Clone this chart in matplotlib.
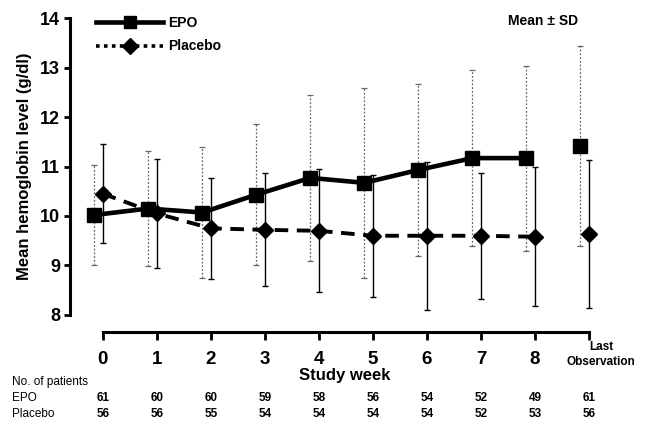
import matplotlib
matplotlib.use("Agg")
import matplotlib.pyplot as plt
from matplotlib.lines import Line2D
import numpy as np

plt.rcParams['font.family'] = ['Liberation Sans', 'DejaVu Sans']

week_labels = ["0", "1", "2", "3", "4", "5", "6", "7", "8", "Last\nObservation"]
epo_mean = [10.02, 10.15, 10.07, 10.43, 10.77, 10.67, 10.93, 11.17, 11.17, 11.42]
epo_sd = [1.02, 1.16, 1.33, 1.42, 1.68, 1.92, 1.74, 1.78, 1.87, 2.02]
placebo_mean = [10.45, 10.05, 9.75, 9.72, 9.70, 9.60, 9.60, 9.60, 9.58, 9.64]
placebo_sd = [1.00, 1.10, 1.02, 1.14, 1.24, 1.23, 1.50, 1.27, 1.40, 1.50]
epo_n = [61, 60, 60, 59, 58, 56, 54, 52, 49, 61]
placebo_n = [56, 56, 55, 54, 54, 54, 54, 52, 53, 56]

fig = plt.figure(figsize=(6.47, 4.21), dpi=100)
ax = fig.add_axes([0.108, 0.252, 0.861, 0.705])

x = np.arange(len(week_labels))
xe = x - 0.16
xp = x.astype(float)

# error bars
eb = ax.errorbar(xe, epo_mean, yerr=epo_sd, fmt='none', ecolor='#666666',
                 elinewidth=0.9, capsize=2, capthick=0.9, zorder=2)
eb.lines[2][0].set_linestyle((0, (1.5, 1.5)))
ax.errorbar(xp, placebo_mean, yerr=placebo_sd, fmt='none', ecolor='black',
            elinewidth=1.0, capsize=2, capthick=1.0, zorder=2)

# lines (last observation not connected)
ax.plot(xe[:9], epo_mean[:9], color='black', lw=3.3, zorder=3)
ax.plot(xp[:9], placebo_mean[:9], color='black', lw=2.8,
        linestyle=(0, (3.5, 2.2)), zorder=3)
ax.plot(xe, epo_mean, linestyle='none', marker='s', ms=9.5, color='black', zorder=4)
ax.plot(xp, placebo_mean, linestyle='none', marker='D', ms=8.5, color='black', zorder=4)

ax.set_xlim(-0.61, 9.7)
ax.set_ylim(8, 14)

for s in ['top', 'right']:
    ax.spines[s].set_visible(False)
ax.spines['left'].set_linewidth(2.2)
ax.spines['bottom'].set_linewidth(2.2)
ax.spines['bottom'].set_position(('outward', 12))
ax.spines['bottom'].set_bounds(0, 9)

ax.set_yticks(range(8, 15))
ax.set_yticklabels([str(v) for v in range(8, 15)], fontsize=13, fontweight='bold')
ax.tick_params(axis='y', direction='out', length=4, width=2, pad=3)
ax.set_xticks(x)
ax.set_xticklabels(week_labels[:9] + [""], fontsize=13.5, fontweight='bold')
ax.tick_params(axis='x', direction='out', length=6, width=2, pad=8)
ax.text(9.22, 7.2, week_labels[9], ha='center', va='center', fontsize=8.5,
        fontweight='bold', linespacing=1.25)

ax.set_ylabel("Mean hemoglobin level (g/dl)", fontsize=12, fontweight='bold', labelpad=6)
fig.text(0.533, 0.108, "Study week", ha='center', va='center', fontsize=12, fontweight='bold')

ax.text(0.85, 0.99, "Mean ± SD", transform=ax.transAxes, ha='center', va='center',
        fontsize=10, fontweight='bold')

handles = [Line2D([], [], color='black', lw=3.3, marker='s', ms=9),
           Line2D([], [], color='black', lw=2.6, linestyle=(0, (1, 1.2)), marker='D', ms=8)]
ax.legend(handles, ["EPO", "Placebo"], loc='upper left', bbox_to_anchor=(0.025, 1.05),
          frameon=False, handlelength=4.8, handletextpad=0.4, labelspacing=0.7,
          prop={'weight': 'bold', 'size': 10})

# patient numbers table
fig.text(12/647, 1 - 382/421, "No. of patients", fontsize=8.5, va='center', ha='left')
fig.text(12/647, 1 - 398/421, "EPO", fontsize=8.5, va='center', ha='left')
fig.text(12/647, 1 - 414/421, "Placebo", fontsize=8.5, va='center', ha='left')
for i in range(len(x)):
    xf = ax.transData.transform((x[i], 0))[0] / fig.bbox.width
    fig.text(xf, 1 - 398/421, str(epo_n[i]), fontsize=8.5, fontweight='bold',
             ha='center', va='center')
    fig.text(xf, 1 - 414/421, str(placebo_n[i]), fontsize=8.5, fontweight='bold',
             ha='center', va='center')

fig.savefig("out.png", dpi=100)
